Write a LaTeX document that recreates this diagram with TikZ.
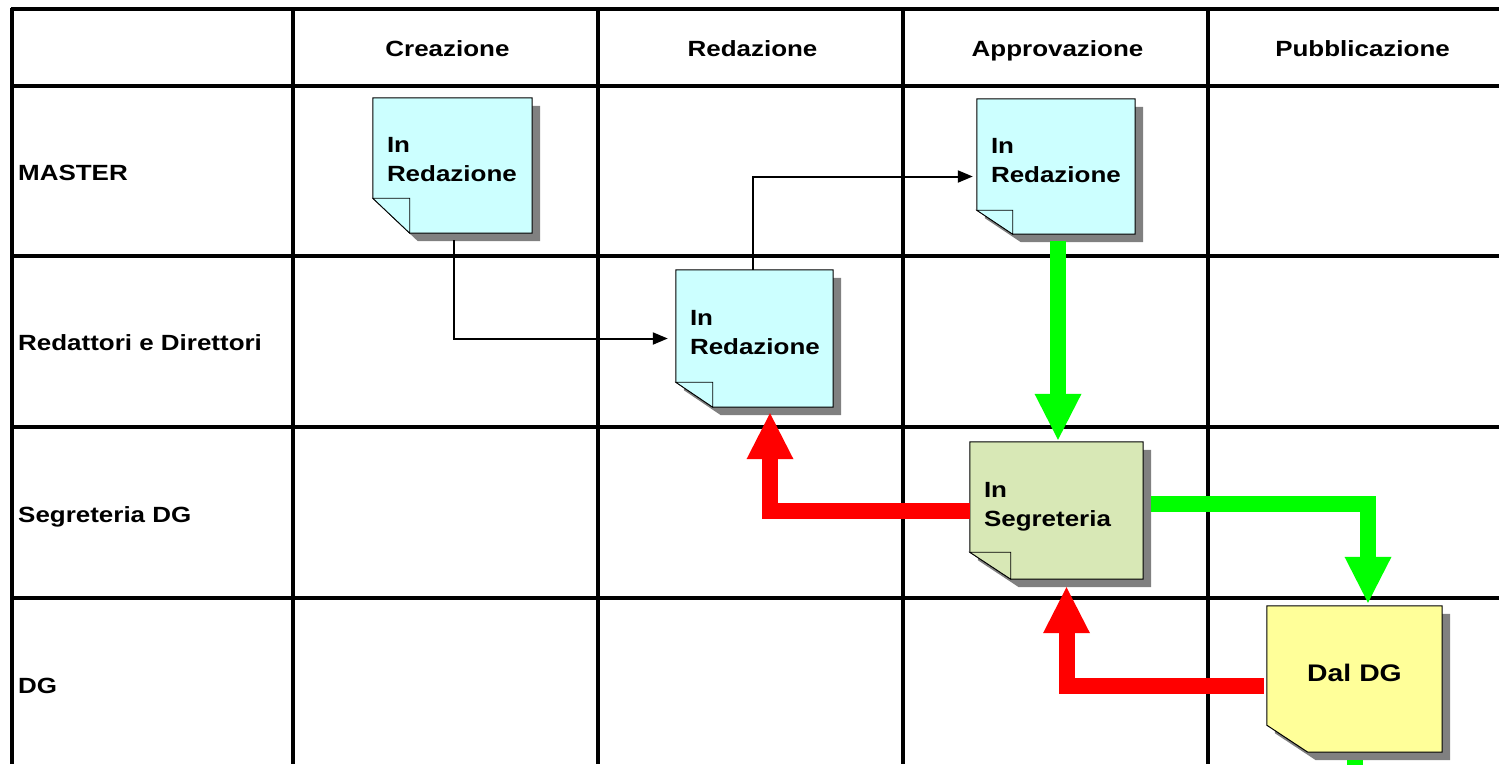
\documentclass[tikz,border=0pt]{standalone}
\usepackage{fontspec}
\setmainfont{Liberation Sans}[FakeStretch=1.18]
\usetikzlibrary{arrows.meta, positioning}

\pgfdeclarelayer{background}
\pgfsetlayers{background,main}

\definecolor{notecyan}{RGB}{204,255,255}
\definecolor{notegreen}{RGB}{216,232,182}
\definecolor{noteyellow}{RGB}{255,255,153}
\definecolor{shadowgray}{RGB}{128,128,128}
\definecolor{okgreen}{RGB}{0,255,0}
\definecolor{kored}{RGB}{255,0,0}

\tikzset{
	grid line/.style={line width=3.2pt},
	header/.style={font=\bfseries\fontsize{22}{26}\selectfont, anchor=base},
	lane/.style={font=\bfseries\fontsize{22}{26}\selectfont, anchor=base west, inner sep=0pt},
	note/.style={draw=none, align=left, inner xsep=14pt, inner ysep=0pt, text depth=41pt,
		font=\bfseries\fontsize{22}{29}\selectfont},
	flow/.style={line width=2pt, -{Triangle[length=15pt,width=12pt]}},
	approve/.style={okgreen, line width=16pt, -{Triangle[length=46pt,width=47pt,line width=0pt]}},
	reject/.style={kored, line width=16pt, -{Triangle[length=46pt,width=47pt,line width=0pt]}},
}

% shadow and body of a sticky note, fold size #3 x #4
\newcommand\stickynote[4]{%
	\fill[shadowgray] ([shift={(8,8)}]#1.north west) -- ([shift={(8,8)}]#1.north east)
		-- ([shift={(8,8)}]#1.south east) -- ([shift={(#3+8,8)}]#1.south west)
		-- ([shift={(8,8-#4)}]#1.south west) -- cycle;
	\filldraw[fill=#2, line width=1pt] (#1.north west) -- (#1.north east) -- (#1.south east)
		-- ([shift={(#3,0)}]#1.south west) -- ([shift={(0,-#4)}]#1.south west) -- cycle;
}
\newcommand\stickyfold[4]{%
	\filldraw[fill=#2, line width=.8pt] ([shift={(0,-#4)}]#1.south west)
		-- ([shift={(#3,-#4)}]#1.south west) -- ([shift={(#3,0)}]#1.south west) -- cycle;
}

\begin{document}
\begin{tikzpicture}[x=1pt, y=-1pt]
	\useasboundingbox (0,0) rectangle (1499,764);

	% table
	\foreach \x in {12,293,598,903,1208}
		\draw[grid line] (\x,7.5) -- (\x,764);
	\foreach \y in {9,86,256,427,598}
		\draw[grid line] (10.5,\y) -- (1499,\y);

	\node[header] (creazione) at (447.5,56) {Creazione};
	\node[header] (redazione) at (752.5,56) {Redazione};
	\node[header] (approvazione) at (1057.5,56) {Approvazione};
	\node[header] (pubblicazione) at (1362.5,56) {Pubblicazione};

	\node[lane] (master) at (18,180) {MASTER};
	\node[lane] (redattori) at (18,350) {Redattori e Direttori};
	\node[lane] (segreteria) at (18,522) {Segreteria DG};
	\node[lane] (dg) at (18,693) {DG};

	% notes
	\node[note, text width=131pt, minimum height=135pt] (a) at (452.5,165.5) {In\\Redazione};
	\node[note, text width=129pt, minimum height=137pt] (b) at (754.5,338.5) {In\\Redazione};
	\node[note, text width=130pt, minimum height=135pt] (c) at (1056,166.5) {In\\Redazione};
	\node[note, text width=145pt, minimum height=137pt] (d) at (1056.5,510.5) {In\\Segreteria};
	\node[note, align=center, text width=147pt, minimum height=146pt, text depth=12pt,
		font=\bfseries\fontsize{24}{28}\selectfont] (e) at (1354.5,679) {Dal DG};
	\coordinate (out) at (1355,800);

	\begin{pgfonlayer}{background}
		\stickynote{a}{notecyan}{37}{35}
		\stickyfold{a}{notecyan}{37}{35}
		\stickynote{b}{notecyan}{37}{25}
		\stickyfold{b}{notecyan}{37}{25}
		\stickynote{c}{notecyan}{36}{24}
		\stickyfold{c}{notecyan}{36}{24}
		\stickynote{d}{notegreen}{41}{27}
		\stickyfold{d}{notegreen}{41}{27}
		\stickynote{e}{noteyellow}{41}{27}
	\end{pgfonlayer}

	\draw[flow] ([shift={(1.5,7)}]a.south) |- ([xshift=-8pt]b.west);
	\draw[flow] ([xshift=-2pt]b.north) |- ([shift={(-4,10)}]c.west);

	\draw[approve] ([shift={(2,7)}]c.south) -- ([shift={(1.5,-2)}]d.north);
	\draw[approve] ([shift={(8,-7)}]d.east) -| ([shift={(13.5,-3)}]e.north);
	\draw[approve, -] ([shift={(0.5,8)}]e.south) -- (out);

	\draw[reject] (d.west) -| ([shift={(15.5,6)}]b.south);
	\draw[reject] ([shift={(-3,6.5)}]e.west) -| ([shift={(10,8)}]d.south);
\end{tikzpicture}
\end{document}
